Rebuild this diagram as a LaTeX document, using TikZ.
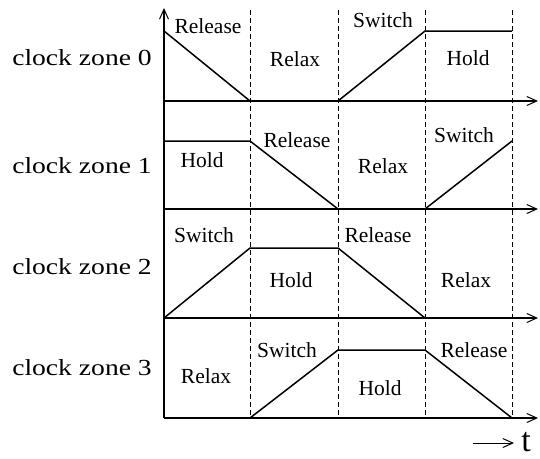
\documentclass[tikz,border=0pt]{standalone}
\usepackage{fontspec}
\setmainfont{Liberation Serif}
\usetikzlibrary{arrows.meta}
\begin{document}
\begin{tikzpicture}[x=1pt,y=-1pt,
  axis/.style={line width=1.3pt,-{Straight Barb[length=10pt,width=9pt,line width=1pt]}},
  wave/.style={line width=1.5pt,line join=miter},
  grid/.style={line width=0.9pt,dash pattern=on 4.5pt off 3.5pt},
  lab/.style={font=\fontsize{21.5}{24}\selectfont,anchor=base,inner sep=0pt},
  zone/.style={font=\fontsize{23}{26}\selectfont,anchor=base,inner sep=0pt}]
\useasboundingbox (0,0) rectangle (540,458);
% dashed separators
\foreach \x/\n in {250/a,338/b,425/c,512/d}{
  \coordinate (t\n) at (\x,10);
  \coordinate (b\n) at (\x,418);
  \draw[grid] (t\n) -- (b\n);
}
% axes
\coordinate (o) at (164,418);
\coordinate (ytop) at (164,8);
\draw[axis] (o) -- (ytop);
\foreach \y/\n in {101/0,209/1,318/2,418/3}{
  \coordinate (s\n) at (164,\y);
  \coordinate (e\n) at (538,\y);
  \draw[axis] (s\n) -- (e\n);
}
% waveforms
\draw[wave] (164,31) -- (250,101) -- (338,101) -- (425,31) -- (512,31);
\draw[wave] (164,141) -- (250,141) -- (338,209) -- (425,209) -- (512,141);
\draw[wave] (164,318) -- (250,248) -- (338,248) -- (425,318) -- (512,318);
\draw[wave] (164,418) -- (250,418) -- (338,350) -- (425,350) -- (512,418);
% zone labels
\node[zone] (z0) at (82,65) {\scalebox{1.2}[1]{clock zone 0}};
\node[zone] (z1) at (82,173) {\scalebox{1.2}[1]{clock zone 1}};
\node[zone] (z2) at (82,274) {\scalebox{1.2}[1]{clock zone 2}};
\node[zone] (z3) at (82,375) {\scalebox{1.2}[1]{clock zone 3}};
% phase labels
\node[lab] (l00) at (208,33) {Release};
\node[lab] (l01) at (295,66) {Relax};
\node[lab] (l02) at (383,27) {Switch};
\node[lab] (l03) at (468,65) {Hold};
\node[lab] (l10) at (202,167) {Hold};
\node[lab] (l11) at (297,147) {Release};
\node[lab] (l12) at (383,173) {Relax};
\node[lab] (l13) at (464,142) {Switch};
\node[lab] (l20) at (204,242) {Switch};
\node[lab] (l21) at (291,287) {Hold};
\node[lab] (l22) at (378,242) {Release};
\node[lab] (l23) at (466,287) {Relax};
\node[lab] (l30) at (206,383) {Relax};
\node[lab] (l31) at (287,357) {Switch};
\node[lab] (l32) at (380,395) {Hold};
\node[lab] (l33) at (474,357) {Release};
% time arrow
\node[font=\fontsize{34}{36}\selectfont,anchor=base,inner sep=0pt] (tl) at (526,451) {t};
\coordinate (ta) at (473,443);
\coordinate (tb) at (514,443);
\draw[axis,line width=1pt] (ta) -- (tb);
\end{tikzpicture}
\end{document}
